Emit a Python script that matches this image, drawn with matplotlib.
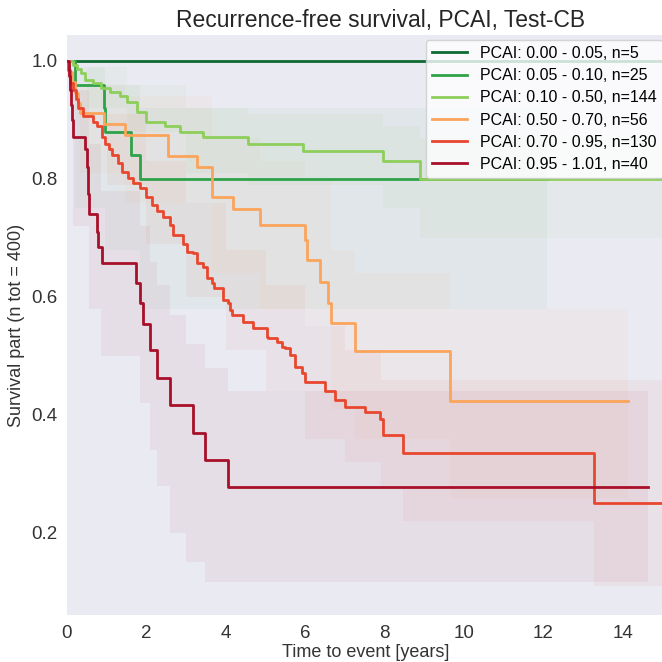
import numpy as np
import matplotlib
matplotlib.use("Agg")
import matplotlib.pyplot as plt

# group labels and colours
labels = ['PCAI: 0.00 - 0.05, n=5', 'PCAI: 0.05 - 0.10, n=25', 'PCAI: 0.10 - 0.50, n=144',
          'PCAI: 0.50 - 0.70, n=56', 'PCAI: 0.70 - 0.95, n=130', 'PCAI: 0.95 - 1.01, n=40']
colors = ['#0d6b32', '#2ea34a', '#8dcf5a', '#fba45a', '#e8472e', '#a8102a']

# Kaplan-Meier curves (time in years, survival part)
t_g1 = [0, 15.0]
s_g1 = [1.0, 1.0]

t_g2 = [0, 0.2, 0.92, 0.96, 1.6, 1.84, 12.1]
s_g2 = [1.0, 0.96, 0.92, 0.88, 0.84, 0.80, 0.80]

t_g3 = [0, 0.15, 0.25, 0.35, 0.45, 0.66, 0.85, 1.08, 1.33, 1.5, 1.76, 2.0, 2.47, 2.85, 3.43, 4.56,
        5.95, 7.97, 8.9, 15.0]
s_g3 = [1.0, 0.993, 0.986, 0.979, 0.968, 0.962, 0.955, 0.948, 0.94, 0.931, 0.914, 0.897, 0.889,
        0.88, 0.872, 0.86, 0.847, 0.83, 0.80, 0.80]

t_g4 = [0, 0.05, 0.12, 0.2, 0.28, 0.33, 0.92, 1.46, 2.55, 3.27, 3.64, 4.19, 4.86, 6.0, 6.05, 6.37,
        6.58, 6.65, 7.25, 9.65, 14.14]
s_g4 = [1.0, 0.982, 0.964, 0.946, 0.929, 0.911, 0.893, 0.875, 0.839, 0.821, 0.77, 0.749, 0.722,
        0.697, 0.663, 0.626, 0.589, 0.556, 0.508, 0.424, 0.424]

t_g5 = [0, 0.03, 0.08, 0.16, 0.22, 0.28, 0.41, 0.66, 0.75, 0.87, 0.96, 1.05, 1.13, 1.29, 1.38, 1.54,
        1.67, 1.84, 2.0, 2.13, 2.26, 2.43, 2.6, 2.68, 2.93, 3.01, 3.18, 3.27, 3.43, 3.52, 3.64, 3.69,
        3.94, 4.06, 4.1, 4.15, 4.44, 4.69, 5.03, 5.07, 5.28, 5.41, 5.49, 5.62, 5.74, 5.91, 5.99, 6.5,
        6.75, 7.0, 7.5, 7.88, 7.97, 8.47, 13.26, 15.0]
s_g5 = [1.0, 0.985, 0.962, 0.951, 0.935, 0.92, 0.906, 0.897, 0.889, 0.872, 0.86, 0.85, 0.84, 0.827,
        0.812, 0.801, 0.793, 0.784, 0.77, 0.756, 0.745, 0.736, 0.722, 0.705, 0.69, 0.677, 0.674,
        0.657, 0.651, 0.632, 0.623, 0.615, 0.595, 0.589, 0.578, 0.569, 0.558, 0.547, 0.533, 0.53,
        0.524, 0.516, 0.513, 0.502, 0.482, 0.471, 0.456, 0.44, 0.425, 0.413, 0.405, 0.394, 0.366,
        0.336, 0.251, 0.251]

t_g6 = [0, 0.05, 0.08, 0.1, 0.12, 0.16, 0.45, 0.5, 0.54, 0.56, 0.75, 0.78, 0.88, 1.75, 1.84, 1.92,
        2.09, 2.26, 2.6, 3.18, 3.48, 4.06, 14.64]
s_g6 = [1.0, 0.975, 0.95, 0.925, 0.9, 0.872, 0.85, 0.82, 0.775, 0.74, 0.71, 0.685, 0.657, 0.623,
        0.589, 0.555, 0.51, 0.462, 0.417, 0.369, 0.324, 0.278, 0.278]

# confidence bands (coarse)
ci_t_g2 = [0, 0.2, 0.96, 1.84, 12.1]
ci_lo_g2 = [1.0, 0.75, 0.68, 0.58, 0.58]
ci_hi_g2 = [1.0, 0.99, 0.96, 0.92, 0.92]

ci_t_g3 = [0, 0.5, 1.5, 3.0, 4.56, 7.97, 8.9, 15.0]
ci_lo_g3 = [1.0, 0.92, 0.88, 0.81, 0.79, 0.75, 0.70, 0.70]
ci_hi_g3 = [1.0, 0.99, 0.96, 0.92, 0.91, 0.89, 0.87, 0.87]

ci_t_g4 = [0, 0.33, 1.46, 3.64, 4.86, 6.0, 6.65, 7.25, 9.65, 14.14]
ci_lo_g4 = [1.0, 0.81, 0.76, 0.64, 0.58, 0.55, 0.41, 0.36, 0.26, 0.26]
ci_hi_g4 = [1.0, 0.96, 0.94, 0.87, 0.83, 0.80, 0.68, 0.64, 0.58, 0.58]

ci_t_g5 = [0, 1, 2, 3, 4, 5, 6, 7, 7.9, 8.47, 13.26, 15.0]
ci_lo_g5 = [1.0, 0.79, 0.69, 0.60, 0.51, 0.44, 0.36, 0.32, 0.28, 0.22, 0.11, 0.11]
ci_hi_g5 = [1.0, 0.91, 0.83, 0.76, 0.68, 0.62, 0.55, 0.51, 0.46, 0.46, 0.46, 0.46]

ci_t_g6 = [0, 0.16, 0.56, 0.86, 1.84, 2.09, 2.26, 2.6, 3.0, 3.48, 4.06, 14.64]
ci_lo_g6 = [1.0, 0.72, 0.58, 0.50, 0.42, 0.34, 0.28, 0.20, 0.15, 0.117, 0.117, 0.117]
ci_hi_g6 = [1.0, 0.95, 0.86, 0.78, 0.72, 0.66, 0.62, 0.57, 0.52, 0.48, 0.44, 0.44]

curves = [(t_g1, s_g1), (t_g2, s_g2), (t_g3, s_g3), (t_g4, s_g4), (t_g5, s_g5), (t_g6, s_g6)]
bands = [None,
         (ci_t_g2, ci_lo_g2, ci_hi_g2),
         (ci_t_g3, ci_lo_g3, ci_hi_g3),
         (ci_t_g4, ci_lo_g4, ci_hi_g4),
         (ci_t_g5, ci_lo_g5, ci_hi_g5),
         (ci_t_g6, ci_lo_g6, ci_hi_g6)]

plt.rcParams['font.family'] = ['Liberation Sans', 'DejaVu Sans']

fig = plt.figure(figsize=(6.62, 6.62), dpi=100)
ax = fig.add_axes([0.1012, 0.0710, 0.9033, 0.8761])
ax.set_facecolor('#eaeaf2')
for sp in ax.spines.values():
    sp.set_visible(False)

for band, col in zip(bands, colors):
    if band is None:
        continue
    bt, lo, hi = band
    ax.fill_between(bt, lo, hi, step='post', color=col, alpha=0.05, linewidth=0)

for (t, s), col, lab in zip(curves, colors, labels):
    ax.step(t, s, where='post', color=col, lw=2.0, label=lab)

ax.set_xlim(0, 15.06)
ax.set_ylim(0.061, 1.044)
ax.set_xticks(np.arange(0, 15, 2))
ax.set_yticks([0.2, 0.4, 0.6, 0.8, 1.0])
ax.tick_params(length=0, labelsize=13.5, labelcolor='0.2', pad=7)

# title sits a bit right of the axes centre in the reference
ax.set_title('Recurrence-free survival, PCAI, Test-CB', fontsize=16.5, color='0.15',
             x=0.524, pad=6)
ax.set_xlabel('Time to event [years]', fontsize=13, color='0.2', labelpad=2)
ax.set_ylabel('Survival part (n tot = 400)', fontsize=13, color='0.2')

ax.legend(loc='upper left', bbox_to_anchor=(0.6, 0.992), borderaxespad=0,
          fontsize=11.5, handlelength=2.2, labelspacing=0.45,
          frameon=True, facecolor='white', framealpha=0.8, edgecolor='0.8')

fig.savefig('out.png', dpi=100)
